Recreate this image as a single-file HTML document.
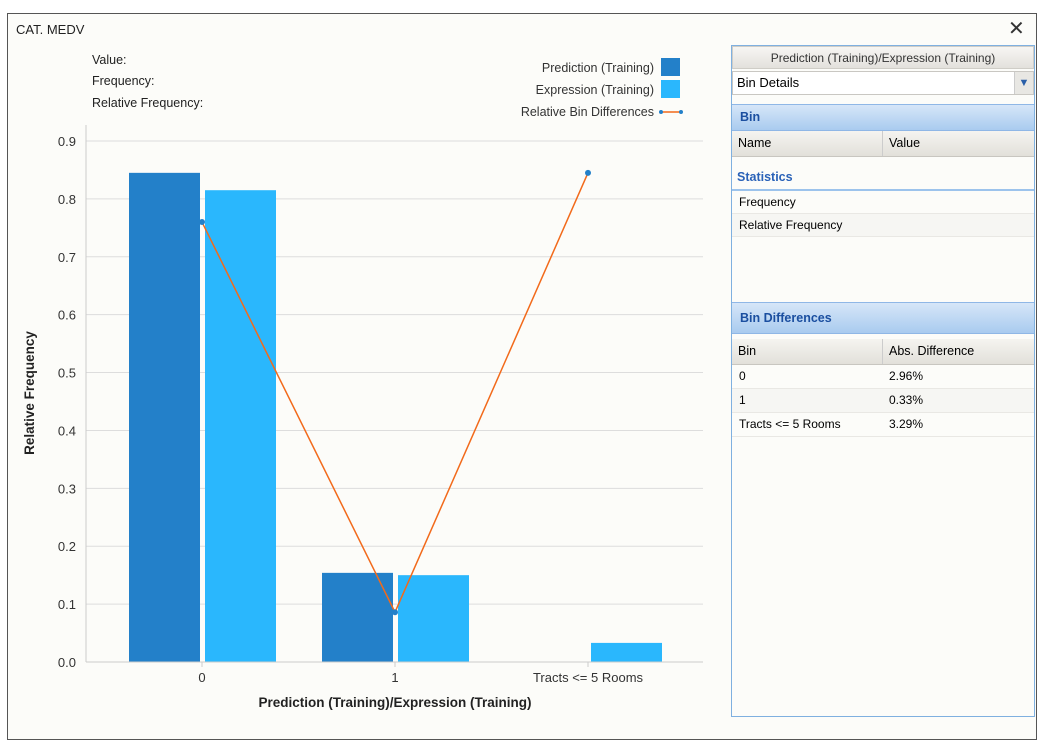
<!DOCTYPE html>
<html><head><meta charset="utf-8"><style>
body{margin:0;width:1050px;height:751px;background:#fff;font-family:"Liberation Sans",sans-serif;position:relative;overflow:hidden}
.a{position:absolute}
.win{left:7px;top:13px;width:1028px;height:725px;border:1px solid #555;background:#fcfcf9}
.t{font-size:12.5px;color:#222}
.hdr{background:linear-gradient(#d6e6f8,#a9cbef);color:#1b4fa0;font-weight:bold;font-size:12.5px;padding-left:8px;box-sizing:border-box;border-top:1px solid #8fb7e6;border-bottom:1px solid #8fb7e6}
.colh{background:linear-gradient(#f5f4f0,#e2e0da);border-bottom:1px solid #c8c6c0;font-size:12.5px}
.row{font-size:12px;border-bottom:1px solid #e9e8e4;height:23px;line-height:23px}
</style></head><body>
<div class="a win"></div>
<div class="a t" style="left:16px;top:22px;font-size:13px">CAT. MEDV</div>
<div class="a" style="left:1008px;top:16px;font-size:20px;color:#333">✕</div>
<div class="a t" style="left:92px;top:53px">Value:</div>
<div class="a t" style="left:92px;top:74px">Frequency:</div>
<div class="a t" style="left:92px;top:96px">Relative Frequency:</div>

<svg class="a" style="left:0;top:0" width="1050" height="751">
<g id="grid"></g><g id="bars"></g><g id="line"></g><g id="axes"></g>
<g font-family="Liberation Sans" font-size="12.5" fill="#333" text-anchor="end">
<text x="654" y="72">Prediction (Training)</text>
<text x="654" y="94">Expression (Training)</text>
<text x="654" y="116">Relative Bin Differences</text>
</g>
<rect x="661" y="58" width="19" height="18" fill="#2380c9"/>
<rect x="661" y="80" width="19" height="18" fill="#2ab7fd"/>
<line x1="661" y1="112" x2="681" y2="112" stroke="#f26a1b" stroke-width="1.5"/><circle cx="661" cy="112" r="2" fill="#2380c9"/><circle cx="681" cy="112" r="2" fill="#2380c9"/>
<text x="395" y="707" font-family="Liberation Sans" font-size="13.5" font-weight="bold" text-anchor="middle" fill="#222">Prediction (Training)/Expression (Training)</text>
<text transform="translate(34,393) rotate(-90)" font-family="Liberation Sans" font-size="13.5" font-weight="bold" text-anchor="middle" fill="#222">Relative Frequency</text>
</svg>

<!-- right panel -->
<div class="a" style="left:731px;top:45px;width:304px;height:672px;border:1px solid #7fb0e0;box-sizing:border-box;background:#fcfcf9"></div>
<div class="a" style="left:732px;top:46px;width:302px;height:23px;background:linear-gradient(#f7f6f3,#e3e1dc);border:1px solid #cfcdc7;box-sizing:border-box;text-align:center;font-size:12px;line-height:22px;color:#333">Prediction (Training)/Expression (Training)</div>
<div class="a" style="left:732px;top:71px;width:302px;height:24px;background:#fff;border:1px solid #c9c7c2;box-sizing:border-box;font-size:13px;line-height:22px;padding-left:4px">Bin Details<span style="position:absolute;right:0;top:0;width:18px;height:22px;background:#e8e7e3;border-left:1px solid #ccc;color:#2a5fa8;font-size:11px;text-align:center">&#9660;</span></div>
<div class="a hdr" style="left:732px;top:104px;width:302px;height:27px;line-height:24px">Bin</div>
<div class="a colh" style="left:732px;top:131px;width:302px;height:25px"><span class="a" style="left:6px;top:5px">Name</span><span class="a" style="left:150px;top:0;height:25px;border-left:1px solid #ccc"></span><span class="a" style="left:157px;top:5px">Value</span></div>
<div class="a" style="left:737px;top:170px;font-size:12.5px;font-weight:bold;color:#2a62b8">Statistics</div>
<div class="a" style="left:732px;top:189px;width:302px;border-top:2px solid #9cc3ec"></div>
<div class="a row" style="left:732px;top:191px;width:302px;padding-left:7px;box-sizing:border-box">Frequency</div>
<div class="a row" style="left:732px;top:214px;width:302px;padding-left:7px;box-sizing:border-box;background:#f6f6f3">Relative Frequency</div>
<div class="a hdr" style="left:732px;top:302px;width:302px;height:32px;line-height:30px">Bin Differences</div>
<div class="a colh" style="left:732px;top:339px;width:302px;height:25px"><span class="a" style="left:6px;top:5px">Bin</span><span class="a" style="left:150px;top:0;height:25px;border-left:1px solid #ccc"></span><span class="a" style="left:157px;top:5px">Abs. Difference</span></div>
<div class="a row" style="left:732px;top:365px;width:302px"><span class="a" style="left:7px">0</span><span class="a" style="left:157px">2.96%</span></div>
<div class="a row" style="left:732px;top:389px;width:302px;background:#f6f6f3"><span class="a" style="left:7px">1</span><span class="a" style="left:157px">0.33%</span></div>
<div class="a row" style="left:732px;top:413px;width:302px"><span class="a" style="left:7px">Tracts &lt;= 5 Rooms</span><span class="a" style="left:157px">3.29%</span></div>

<script>
const categories=["0","1","Tracts <= 5 Rooms"];
const prediction=[0.845,0.154,0];
const expression=[0.815,0.150,0.033];
const binDiff=[0.76,0.086,0.845];
const yTicks=[0,0.1,0.2,0.3,0.4,0.5,0.6,0.7,0.8,0.9];
const NS="http://www.w3.org/2000/svg";
const y=v=>662-v*(521/0.9);
const xc=i=>202+i*193;
function mk(tag,attrs,parent){const e=document.createElementNS(NS,tag);for(const k in attrs)e.setAttribute(k,attrs[k]);document.getElementById(parent).appendChild(e);return e;}
yTicks.forEach(t=>{
  const g=mk('line',{x1:86,x2:703,y1:y(t),y2:y(t),stroke:'#dddddd','stroke-width':1},'grid');
  
  
  const l=mk('text',{x:76,y:y(t)+5,'text-anchor':'end','font-size':13,'font-family':'Liberation Sans',fill:'#333'},'axes');
  l.textContent=t.toFixed(1);
  
  
});
mk('line',{x1:86,x2:86,y1:125,y2:662,stroke:'#ccc'},'axes');
mk('line',{x1:86,x2:703,y1:662,y2:662,stroke:'#ccc'},'axes');
categories.forEach((c,i)=>{
  const p=mk('rect',{x:xc(i)-73,y:y(prediction[i]),width:71,height:662-y(prediction[i]),fill:'#2380c9'},'bars');
  
  
  const e=mk('rect',{x:xc(i)+3,y:y(expression[i]),width:71,height:662-y(expression[i]),fill:'#2ab7fd'},'bars');
  
  
  mk('line',{x1:xc(i),x2:xc(i),y1:662,y2:667,stroke:'#ccc'},'axes');
  const t=mk('text',{x:xc(i),y:682,'text-anchor':'middle','font-size':13,'font-family':'Liberation Sans',fill:'#333'},'axes');
  t.textContent=c;
  
  
});
const pl=mk('polyline',{points:binDiff.map((v,i)=>xc(i)+','+y(v)).join(' '),fill:'none',stroke:'#f26a1b','stroke-width':1.5},'line');


binDiff.forEach((v,i)=>{
  const c=mk('circle',{cx:xc(i),cy:y(v),r:3,fill:'#2380c9'},'line');
  
  
});
</script>
</body></html>
